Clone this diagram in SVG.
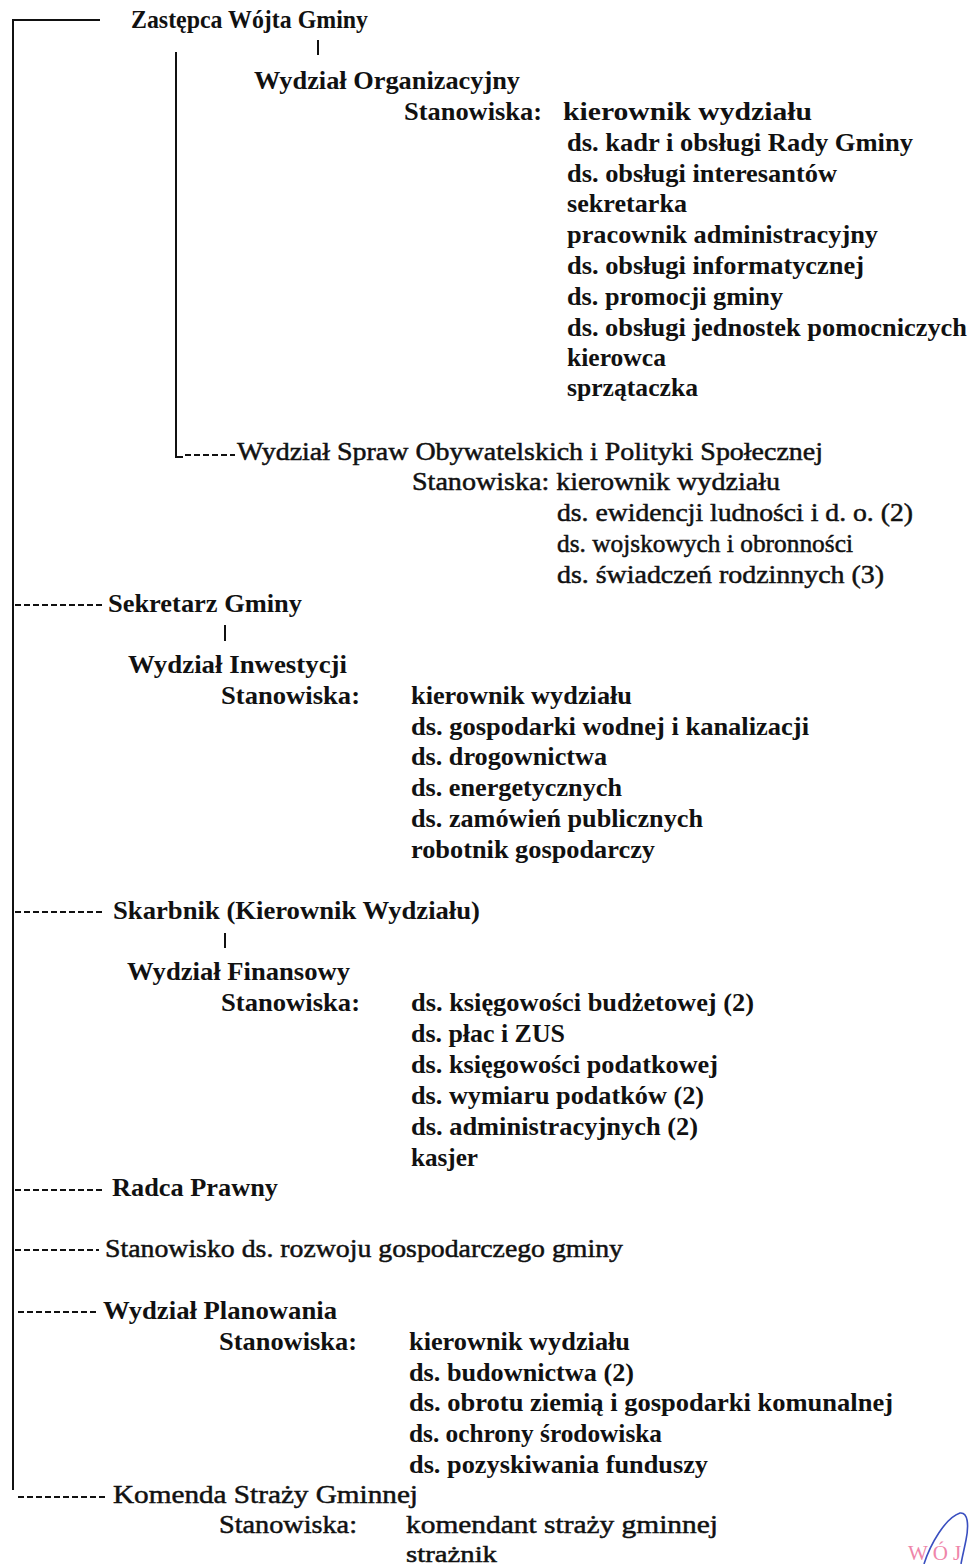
<svg xmlns="http://www.w3.org/2000/svg" width="973" height="1564" viewBox="0 0 973 1564">
<style>
text{font-family:'Liberation Serif','Times New Roman',Times,serif;font-size:26px;fill:#111;}
.b{font-weight:bold;}
.r{font-weight:normal;stroke:#111;stroke-width:0.5px;}
.ln{stroke:#111;stroke-width:2;fill:none;}
.dash{stroke:#111;stroke-width:2;fill:none;stroke-dasharray:6,3;}
.stamp{font-family:'Liberation Serif',serif;font-size:21px;fill:#ef86aa;letter-spacing:5px;}
</style>
<rect width="973" height="1564" fill="#fff"/>
<g id="connectors">
<polyline class="ln" points="100,20 13,20 13,1490"/>
<line class="ln" x1="318" y1="40" x2="318" y2="55"/>
<polyline class="ln" points="176,52 176,457 183,457"/>
<line class="dash" x1="185" y1="455" x2="235" y2="455"/>
<line class="dash" x1="15" y1="605" x2="102" y2="605"/>
<line class="ln" x1="225" y1="625" x2="225" y2="641"/>
<line class="dash" x1="15" y1="912" x2="104" y2="912"/>
<line class="ln" x1="225" y1="933" x2="225" y2="948"/>
<line class="dash" x1="15" y1="1190" x2="102" y2="1190"/>
<line class="dash" x1="15" y1="1250" x2="99" y2="1250"/>
<line class="dash" x1="18" y1="1312" x2="96" y2="1312"/>
<line class="dash" x1="18" y1="1497" x2="106" y2="1497"/>
</g>
<g id="zastepca"><text class="b" x="131" y="28" textLength="237" lengthAdjust="spacingAndGlyphs">Zastępca Wójta Gminy</text></g>
<g id="wydzial-organizacyjny">
<text class="b" x="254" y="89" textLength="266" lengthAdjust="spacingAndGlyphs">Wydział Organizacyjny</text>
<text class="b" x="404" y="120" textLength="138" lengthAdjust="spacingAndGlyphs">Stanowiska:</text>
<text class="b" x="563" y="120" textLength="249" lengthAdjust="spacingAndGlyphs">kierownik wydziału</text>
<text class="b" x="567" y="151" textLength="346" lengthAdjust="spacingAndGlyphs">ds. kadr i obsługi Rady Gminy</text>
<text class="b" x="567" y="182" textLength="270" lengthAdjust="spacingAndGlyphs">ds. obsługi interesantów</text>
<text class="b" x="567" y="212" textLength="120" lengthAdjust="spacingAndGlyphs">sekretarka</text>
<text class="b" x="567" y="243" textLength="311" lengthAdjust="spacingAndGlyphs">pracownik administracyjny</text>
<text class="b" x="567" y="274" textLength="297" lengthAdjust="spacingAndGlyphs">ds. obsługi informatycznej</text>
<text class="b" x="567" y="305" textLength="216" lengthAdjust="spacingAndGlyphs">ds. promocji gminy</text>
<text class="b" x="567" y="336" textLength="400" lengthAdjust="spacingAndGlyphs">ds. obsługi jednostek pomocniczych</text>
<text class="b" x="567" y="366" textLength="99" lengthAdjust="spacingAndGlyphs">kierowca</text>
<text class="b" x="567" y="396" textLength="131" lengthAdjust="spacingAndGlyphs">sprzątaczka</text>
</g>
<g id="wydzial-spraw-obywatelskich">
<text class="r" x="237" y="460" textLength="586" lengthAdjust="spacingAndGlyphs">Wydział Spraw Obywatelskich i Polityki Społecznej</text>
<text class="r" x="412" y="490" textLength="368" lengthAdjust="spacingAndGlyphs">Stanowiska: kierownik wydziału</text>
<text class="r" x="557" y="521" textLength="356" lengthAdjust="spacingAndGlyphs">ds. ewidencji ludności i d. o. (2)</text>
<text class="r" x="557" y="552" textLength="296" lengthAdjust="spacingAndGlyphs">ds. wojskowych i obronności</text>
<text class="r" x="557" y="583" textLength="327" lengthAdjust="spacingAndGlyphs">ds. świadczeń rodzinnych (3)</text>
</g>
<g id="sekretarz"><text class="b" x="108" y="612" textLength="194" lengthAdjust="spacingAndGlyphs">Sekretarz Gminy</text></g>
<g id="wydzial-inwestycji">
<text class="b" x="128" y="673" textLength="219" lengthAdjust="spacingAndGlyphs">Wydział Inwestycji</text>
<text class="b" x="221" y="704" textLength="139" lengthAdjust="spacingAndGlyphs">Stanowiska:</text>
<text class="b" x="411" y="704" textLength="221" lengthAdjust="spacingAndGlyphs">kierownik wydziału</text>
<text class="b" x="411" y="735" textLength="398" lengthAdjust="spacingAndGlyphs">ds. gospodarki wodnej i kanalizacji</text>
<text class="b" x="411" y="765" textLength="196" lengthAdjust="spacingAndGlyphs">ds. drogownictwa</text>
<text class="b" x="411" y="796" textLength="211" lengthAdjust="spacingAndGlyphs">ds. energetycznych</text>
<text class="b" x="411" y="827" textLength="292" lengthAdjust="spacingAndGlyphs">ds. zamówień publicznych</text>
<text class="b" x="411" y="858" textLength="244" lengthAdjust="spacingAndGlyphs">robotnik gospodarczy</text>
</g>
<g id="skarbnik"><text class="b" x="113" y="919" textLength="367" lengthAdjust="spacingAndGlyphs">Skarbnik (Kierownik Wydziału)</text></g>
<g id="wydzial-finansowy">
<text class="b" x="127" y="980" textLength="223" lengthAdjust="spacingAndGlyphs">Wydział Finansowy</text>
<text class="b" x="221" y="1011" textLength="139" lengthAdjust="spacingAndGlyphs">Stanowiska:</text>
<text class="b" x="411" y="1011" textLength="343" lengthAdjust="spacingAndGlyphs">ds. księgowości budżetowej (2)</text>
<text class="b" x="411" y="1042" textLength="154" lengthAdjust="spacingAndGlyphs">ds. płac i ZUS</text>
<text class="b" x="411" y="1073" textLength="307" lengthAdjust="spacingAndGlyphs">ds. księgowości podatkowej</text>
<text class="b" x="411" y="1104" textLength="293" lengthAdjust="spacingAndGlyphs">ds. wymiaru podatków (2)</text>
<text class="b" x="411" y="1135" textLength="287" lengthAdjust="spacingAndGlyphs">ds. administracyjnych (2)</text>
<text class="b" x="411" y="1166" textLength="67" lengthAdjust="spacingAndGlyphs">kasjer</text>
</g>
<g id="radca"><text class="b" x="112" y="1196" textLength="166" lengthAdjust="spacingAndGlyphs">Radca Prawny</text></g>
<g id="stanowisko-rozwoju"><text class="r" x="105" y="1257" textLength="518" lengthAdjust="spacingAndGlyphs">Stanowisko ds. rozwoju gospodarczego gminy</text></g>
<g id="wydzial-planowania">
<text class="b" x="103" y="1319" textLength="234" lengthAdjust="spacingAndGlyphs">Wydział Planowania</text>
<text class="b" x="219" y="1350" textLength="138" lengthAdjust="spacingAndGlyphs">Stanowiska:</text>
<text class="b" x="409" y="1350" textLength="221" lengthAdjust="spacingAndGlyphs">kierownik wydziału</text>
<text class="b" x="409" y="1381" textLength="225" lengthAdjust="spacingAndGlyphs">ds. budownictwa (2)</text>
<text class="b" x="409" y="1411" textLength="484" lengthAdjust="spacingAndGlyphs">ds. obrotu ziemią i gospodarki komunalnej</text>
<text class="b" x="409" y="1442" textLength="253" lengthAdjust="spacingAndGlyphs">ds. ochrony środowiska</text>
<text class="b" x="409" y="1473" textLength="299" lengthAdjust="spacingAndGlyphs">ds. pozyskiwania funduszy</text>
</g>
<g id="komenda">
<text class="r" x="113" y="1503" textLength="305" lengthAdjust="spacingAndGlyphs">Komenda Straży Gminnej</text>
<text class="r" x="219" y="1533" textLength="138" lengthAdjust="spacingAndGlyphs">Stanowiska:</text>
<text class="r" x="406" y="1533" textLength="312" lengthAdjust="spacingAndGlyphs">komendant straży gminnej</text>
<text class="r" x="406" y="1562" textLength="91" lengthAdjust="spacingAndGlyphs" style="font-size:24px">strażnik</text>
</g>
<g id="stamp">
<text class="stamp" x="908" y="1560">WÓJ</text>
<path d="M924,1564 C930,1545 945,1518 960,1513 C968,1512 969,1525 966,1540 C964,1550 962,1558 961,1564" fill="none" stroke="#3a4fc0" stroke-width="1.6"/>
</g>
</svg>
